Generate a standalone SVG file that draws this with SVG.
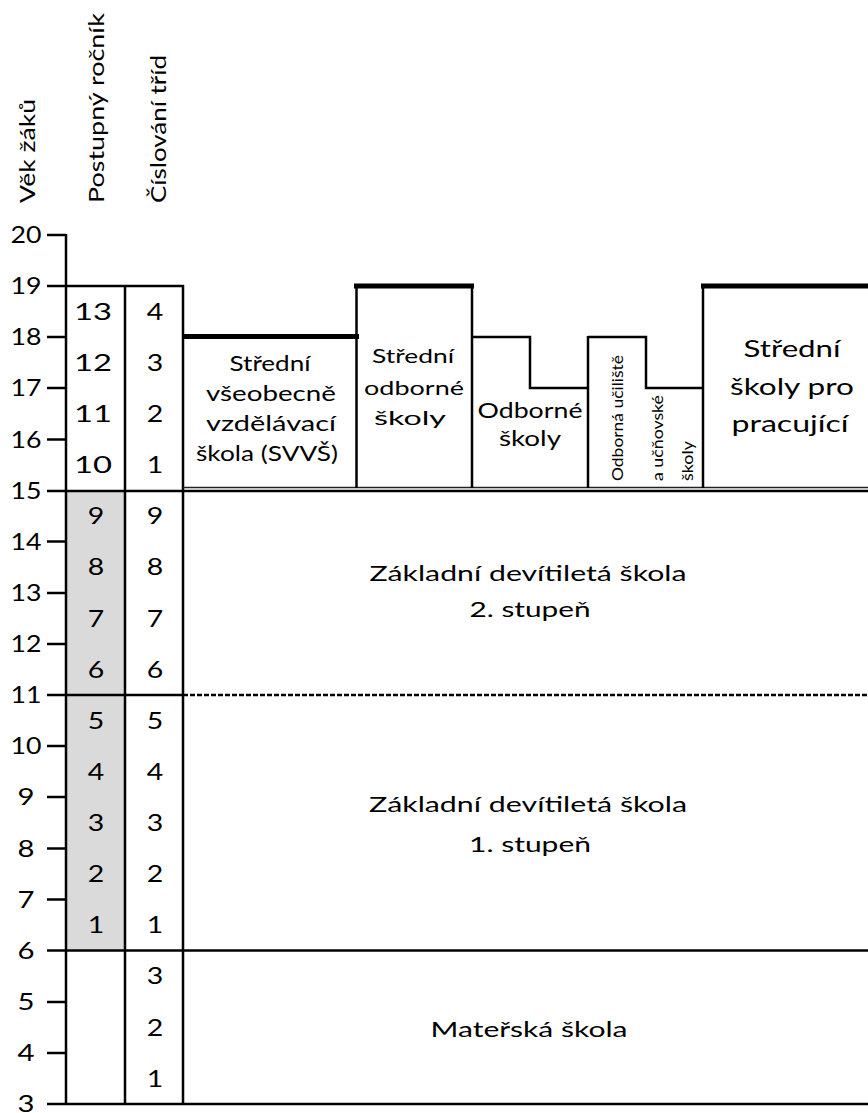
<svg xmlns="http://www.w3.org/2000/svg" width="868" height="1113" viewBox="0 0 868 1113">
<style>
.ln{stroke:#000;stroke-width:2.5;fill:none}
.thk{stroke:#000;stroke-width:5;fill:none}
.thin{stroke:#222;stroke-width:1.6;fill:none}
.dash{stroke:#000;stroke-width:2.5;fill:none;stroke-dasharray:5 2}
.t{font-family:Lato,"Open Sans","Liberation Sans",sans-serif;fill:#000;text-anchor:middle}
.n{font-size:23px}
.h{font-size:21px;text-anchor:start}
.m{font-size:22px}
.s{font-size:21px}
.r{font-size:16px;text-anchor:start}
</style>
<rect width="868" height="1113" fill="#fff"/>

<g id="grade-shading">
<rect x="66" y="490.5" width="59" height="460" fill="#dadada"/>
</g>

<g id="headers">
<text class="t h" transform="translate(35,203) rotate(-90)" textLength="104" lengthAdjust="spacingAndGlyphs">Věk žáků</text>
<text class="t h" transform="translate(104,203) rotate(-90)" textLength="190" lengthAdjust="spacingAndGlyphs">Postupný ročník</text>
<text class="t h" transform="translate(166,203) rotate(-90)" textLength="148" lengthAdjust="spacingAndGlyphs">Číslování tříd</text>
</g>

<g id="age-axis">
<line class="ln" x1="66" y1="234" x2="66" y2="1105"/>
<line class="ln" x1="47" y1="235" x2="66" y2="235"/>
<line class="ln" x1="47" y1="337" x2="66" y2="337"/>
<line class="ln" x1="47" y1="388" x2="66" y2="388"/>
<line class="ln" x1="47" y1="439.5" x2="66" y2="439.5"/>
<line class="ln" x1="47" y1="541.5" x2="66" y2="541.5"/>
<line class="ln" x1="47" y1="593" x2="66" y2="593"/>
<line class="ln" x1="47" y1="644" x2="66" y2="644"/>
<line class="ln" x1="47" y1="746" x2="66" y2="746"/>
<line class="ln" x1="47" y1="797" x2="66" y2="797"/>
<line class="ln" x1="47" y1="848.5" x2="66" y2="848.5"/>
<line class="ln" x1="47" y1="899.5" x2="66" y2="899.5"/>
<line class="ln" x1="47" y1="1002" x2="66" y2="1002"/>
<line class="ln" x1="47" y1="1053" x2="66" y2="1053"/>
<g class="t n">
<text x="26" y="243" textLength="31" lengthAdjust="spacingAndGlyphs">20</text>
<text x="26" y="294" textLength="31" lengthAdjust="spacingAndGlyphs">19</text>
<text x="26" y="345" textLength="31" lengthAdjust="spacingAndGlyphs">18</text>
<text x="26" y="396" textLength="31" lengthAdjust="spacingAndGlyphs">17</text>
<text x="26" y="447.5" textLength="31" lengthAdjust="spacingAndGlyphs">16</text>
<text x="26" y="498.5" textLength="31" lengthAdjust="spacingAndGlyphs">15</text>
<text x="26" y="549.5" textLength="31" lengthAdjust="spacingAndGlyphs">14</text>
<text x="26" y="601" textLength="31" lengthAdjust="spacingAndGlyphs">13</text>
<text x="26" y="652" textLength="31" lengthAdjust="spacingAndGlyphs">12</text>
<text x="26" y="703" textLength="31" lengthAdjust="spacingAndGlyphs">11</text>
<text x="26" y="754" textLength="31" lengthAdjust="spacingAndGlyphs">10</text>
<text x="26" y="805" textLength="17" lengthAdjust="spacingAndGlyphs">9</text>
<text x="26" y="856.5" textLength="17" lengthAdjust="spacingAndGlyphs">8</text>
<text x="26" y="907.5" textLength="17" lengthAdjust="spacingAndGlyphs">7</text>
<text x="26" y="958.5" textLength="17" lengthAdjust="spacingAndGlyphs">6</text>
<text x="26" y="1010" textLength="17" lengthAdjust="spacingAndGlyphs">5</text>
<text x="26" y="1061" textLength="17" lengthAdjust="spacingAndGlyphs">4</text>
<text x="26" y="1112" textLength="17" lengthAdjust="spacingAndGlyphs">3</text>
</g>
</g>

<g id="grade-columns">
<line class="ln" x1="47" y1="286" x2="184" y2="286"/>
<line class="ln" x1="125" y1="285" x2="125" y2="1105"/>
<line class="ln" x1="183" y1="285" x2="183" y2="1105"/>
<g class="t n">
<text x="93" y="319.5" textLength="38" lengthAdjust="spacingAndGlyphs">13</text>
<text x="93" y="370.5" textLength="38" lengthAdjust="spacingAndGlyphs">12</text>
<text x="93" y="422" textLength="38" lengthAdjust="spacingAndGlyphs">11</text>
<text x="93" y="473" textLength="38" lengthAdjust="spacingAndGlyphs">10</text>
<text x="96" y="524" textLength="16.5" lengthAdjust="spacingAndGlyphs">9</text>
<text x="96" y="575" textLength="16.5" lengthAdjust="spacingAndGlyphs">8</text>
<text x="96" y="626.5" textLength="16.5" lengthAdjust="spacingAndGlyphs">7</text>
<text x="96" y="677.5" textLength="16.5" lengthAdjust="spacingAndGlyphs">6</text>
<text x="96" y="728.5" textLength="16.5" lengthAdjust="spacingAndGlyphs">5</text>
<text x="96" y="779.5" textLength="16.5" lengthAdjust="spacingAndGlyphs">4</text>
<text x="96" y="831" textLength="16.5" lengthAdjust="spacingAndGlyphs">3</text>
<text x="96" y="882" textLength="16.5" lengthAdjust="spacingAndGlyphs">2</text>
<text x="96" y="933" textLength="16.5" lengthAdjust="spacingAndGlyphs">1</text>

<text x="155" y="319.5" textLength="16.5" lengthAdjust="spacingAndGlyphs">4</text>
<text x="155" y="370.5" textLength="16.5" lengthAdjust="spacingAndGlyphs">3</text>
<text x="155" y="422" textLength="16.5" lengthAdjust="spacingAndGlyphs">2</text>
<text x="155" y="473" textLength="16.5" lengthAdjust="spacingAndGlyphs">1</text>
<text x="155" y="524" textLength="16.5" lengthAdjust="spacingAndGlyphs">9</text>
<text x="155" y="575" textLength="16.5" lengthAdjust="spacingAndGlyphs">8</text>
<text x="155" y="626.5" textLength="16.5" lengthAdjust="spacingAndGlyphs">7</text>
<text x="155" y="677.5" textLength="16.5" lengthAdjust="spacingAndGlyphs">6</text>
<text x="155" y="728.5" textLength="16.5" lengthAdjust="spacingAndGlyphs">5</text>
<text x="155" y="779.5" textLength="16.5" lengthAdjust="spacingAndGlyphs">4</text>
<text x="155" y="831" textLength="16.5" lengthAdjust="spacingAndGlyphs">3</text>
<text x="155" y="882" textLength="16.5" lengthAdjust="spacingAndGlyphs">2</text>
<text x="155" y="933" textLength="16.5" lengthAdjust="spacingAndGlyphs">1</text>
<text x="155" y="984" textLength="16.5" lengthAdjust="spacingAndGlyphs">3</text>
<text x="155" y="1035.5" textLength="16.5" lengthAdjust="spacingAndGlyphs">2</text>
<text x="155" y="1086.5" textLength="16.5" lengthAdjust="spacingAndGlyphs">1</text>
</g>
</g>

<g id="connectors">
<line class="thin" x1="183" y1="487.5" x2="868" y2="487.5"/>
<line class="ln" x1="47" y1="491" x2="868" y2="491"/>
<line class="ln" x1="47" y1="695" x2="183" y2="695"/>
<line class="dash" x1="183" y1="695" x2="868" y2="695"/>
<line class="ln" x1="47" y1="950.5" x2="868" y2="950.5"/>
<line class="ln" x1="47" y1="1104" x2="868" y2="1104"/>
</g>

<g id="svvs">
<line class="thk" x1="182" y1="336.5" x2="359" y2="336.5"/>
<g class="t s">
<text x="270" y="371" textLength="81" lengthAdjust="spacingAndGlyphs">Střední</text>
<text x="271" y="401" textLength="130" lengthAdjust="spacingAndGlyphs">všeobecně</text>
<text x="271" y="431" textLength="130" lengthAdjust="spacingAndGlyphs">vzdělávací</text>
<text x="267" y="461" textLength="142" lengthAdjust="spacingAndGlyphs">škola (SVVŠ)</text>
</g>
</g>

<g id="stredni-odborne">
<line class="ln" x1="356.5" y1="284" x2="356.5" y2="488"/>
<line class="ln" x1="472" y1="286" x2="472" y2="488"/>
<line class="thk" x1="354" y1="286" x2="474" y2="286"/>
<g class="t" style="font-size:20px">
<text x="413" y="363" textLength="82" lengthAdjust="spacingAndGlyphs">Střední</text>
<text x="414" y="395" textLength="100" lengthAdjust="spacingAndGlyphs">odborné</text>
<text x="410" y="425" textLength="72" lengthAdjust="spacingAndGlyphs">školy</text>
</g>
</g>

<g id="odborne">
<polyline class="ln" points="472,337 530,337 530,388 588,388"/>
<g class="t m">
<text x="530" y="418" textLength="105" lengthAdjust="spacingAndGlyphs">Odborné</text>
<text x="530" y="446" textLength="62" lengthAdjust="spacingAndGlyphs">školy</text>
</g>
</g>

<g id="odborna-uciliste">
<line class="ln" x1="588" y1="336" x2="588" y2="488"/>
<polyline class="ln" points="588,337 646,337 646,388 703,388"/>
<g class="t r">
<text transform="translate(623,481) rotate(-90)" textLength="126" lengthAdjust="spacingAndGlyphs">Odborná učiliště</text>
<text transform="translate(663,481) rotate(-90)" textLength="86" lengthAdjust="spacingAndGlyphs">a učňovské</text>
<text transform="translate(693,481) rotate(-90)" textLength="40" lengthAdjust="spacingAndGlyphs">školy</text>
</g>
</g>

<g id="pracujici">
<line class="ln" x1="703" y1="284" x2="703" y2="488"/>
<line class="thk" x1="701" y1="286" x2="868" y2="286"/>
<g class="t" style="font-size:23px">
<text x="792" y="357" textLength="97" lengthAdjust="spacingAndGlyphs">Střední</text>
<text x="792" y="395" textLength="124" lengthAdjust="spacingAndGlyphs">školy pro</text>
<text x="790" y="432" textLength="117" lengthAdjust="spacingAndGlyphs">pracující</text>
</g>
</g>

<g id="zds2">
<g class="t m">
<text x="528" y="581" textLength="317" lengthAdjust="spacingAndGlyphs">Základní devítiletá škola</text>
<text x="530" y="617" textLength="121" lengthAdjust="spacingAndGlyphs">2. stupeň</text>
</g>
</g>

<g id="zds1">
<g class="t m">
<text x="528" y="812" textLength="318" lengthAdjust="spacingAndGlyphs">Základní devítiletá škola</text>
<text x="530" y="852" textLength="122" lengthAdjust="spacingAndGlyphs">1. stupeň</text>
</g>
</g>

<g id="materska">
<text class="t m" x="529" y="1037" textLength="197" lengthAdjust="spacingAndGlyphs">Mateřská škola</text>
</g>
</svg>
